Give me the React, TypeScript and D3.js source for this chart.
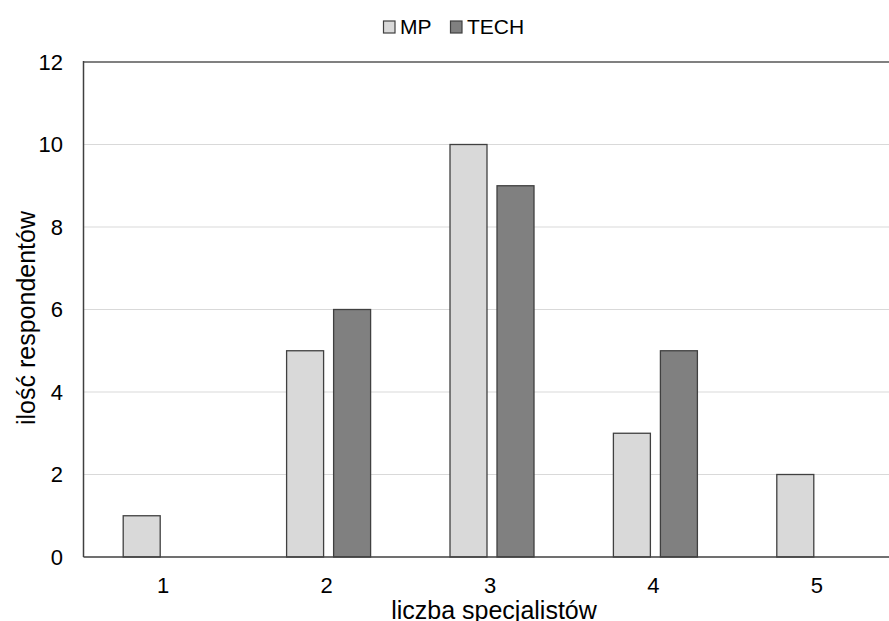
import React from "react";
import * as d3 from "d3";

const categories = ["1", "2", "3", "4", "5"];
const seriesNames = ["MP", "TECH"];
const mpValues = [1, 5, 10, 3, 2];
const techValues = [0, 6, 9, 5, 0];
const yTicks = [0, 2, 4, 6, 8, 10, 12];
const colors = ["#d9d9d9", "#808080"];

const W = 889;
const H = 621;
const FONT = "'Liberation Sans', Arial, sans-serif";

export default function App() {
  const left = 83.5;
  const top = 62;
  const bottom = 557;
  const x0 = d3.scaleBand<string>().domain(categories).range([left, 900.5]).paddingInner(0).paddingOuter(0);
  const step = x0.bandwidth();
  const groupW = 84;
  const x1 = d3
    .scaleBand<string>()
    .domain(seriesNames)
    .range([(step - groupW) / 2, (step + groupW) / 2])
    .paddingInner(0.213)
    .paddingOuter(0);
  const y = d3.scaleLinear().domain([0, 12]).range([bottom, top]);
  const series = [mpValues, techValues];

  return (
    <svg width={W} height={H} style={{ position: "absolute", left: 0, top: 0, display: "block", background: "#fff" }} fontFamily={FONT}>
      <rect x={0} y={0} width={W} height={H} fill="#fff" />
      {yTicks.filter((t) => t > 0 && t < 12).map((t) => (
        <line key={t} x1={left} x2={W} y1={y(t)} y2={y(t)} stroke="#d9d9d9" strokeWidth={1.2} />
      ))}
      <line x1={left} x2={W} y1={y(12)} y2={y(12)} stroke="#808080" strokeWidth={2} />
      {categories.map((c, i) => (
        <g key={c} transform={`translate(${x0(c)},0)`}>
          {series.map((vals, s) =>
            vals[i] > 0 ? (
              <rect
                key={s}
                x={x1(seriesNames[s])}
                y={y(vals[i])}
                width={x1.bandwidth()}
                height={y(0) - y(vals[i])}
                fill={colors[s]}
                stroke="#404040"
                strokeWidth={1.3}
              />
            ) : null
          )}
        </g>
      ))}
      <line x1={left} x2={left} y1={y(12) - 1} y2={bottom} stroke="#404040" strokeWidth={1.5} />
      <line x1={left} x2={W} y1={bottom} y2={bottom} stroke="#404040" strokeWidth={1.5} />
      {yTicks.map((t) => (
        <text key={t} x={63} y={y(t)} dy="0.36em" textAnchor="end" fontSize={22} fill="#000">
          {t}
        </text>
      ))}
      {categories.map((c) => (
        <text key={c} x={(x0(c) as number) + step / 2 - 2} y={593} textAnchor="middle" fontSize={22} fill="#000">
          {c}
        </text>
      ))}
      <text x={494} y={619} textAnchor="middle" fontSize={25} fill="#000">
        liczba specjalistów
      </text>
      <text
        x={26}
        y={318}
        transform="rotate(-90, 26, 318)"
        dy="0.36em"
        textAnchor="middle"
        fontSize={25}
        fill="#000"
      >
        ilość respondentów
      </text>
      <rect x={383.5} y={21} width={11.5} height={12} fill={colors[0]} stroke="#404040" strokeWidth={1.2} />
      <text x={400} y={34} fontSize={21} fill="#000">MP</text>
      <rect x={450.5} y={21} width={11.5} height={12} fill={colors[1]} stroke="#404040" strokeWidth={1.2} />
      <text x={467} y={34} fontSize={21} fill="#000">TECH</text>
    </svg>
  );
}
